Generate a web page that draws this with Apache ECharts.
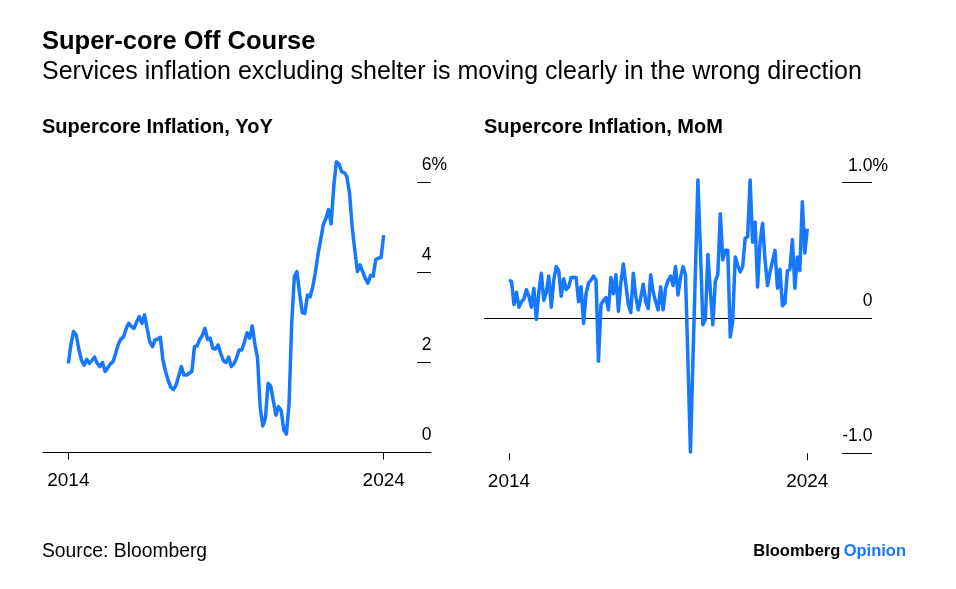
<!DOCTYPE html>
<html><head><meta charset="utf-8">
<script src="https://cdn.jsdelivr.net/npm/echarts@6/dist/echarts.min.js"></script>
<style>html,body{margin:0;padding:0;background:#fff}#c{width:956px;height:589px}</style>
</head><body><div id="c"></div>
<script>
// ---- data (monthly, Jan 2014 .. Jan 2024) ----
const startYear = 2014;
const yoy = [1.98, 2.4, 2.69, 2.61, 2.3, 2.05, 1.94, 2.07, 1.98, 2.05,
  2.12, 1.98, 1.91, 2.0, 1.80, 1.88, 1.97, 2.02, 2.2, 2.4,
  2.52, 2.57, 2.75, 2.87, 2.8, 2.76, 2.9, 3.02, 2.87, 3.06,
  2.75, 2.46, 2.35, 2.5, 2.52, 2.56, 2.06, 1.8, 1.6, 1.45,
  1.40, 1.5, 1.7, 1.91, 1.72, 1.72, 1.76, 1.80, 2.35, 2.37,
  2.51, 2.6, 2.76, 2.51, 2.54, 2.31, 2.3, 2.39, 2.2, 2.04,
  2.0, 2.12, 1.91, 1.97, 2.1, 2.28, 2.28, 2.45, 2.66, 2.54,
  2.81, 2.4, 2.1, 1.0, 0.59, 0.76, 1.54, 1.48, 1.15, 0.83,
  1.02, 0.93, 0.5, 0.41, 1.09, 2.87, 3.91, 4.02, 3.54, 3.11,
  3.09, 3.5, 3.46, 3.68, 4.0, 4.4, 4.72, 5.06, 5.2, 5.4,
  5.08, 5.91, 6.46, 6.41, 6.24, 6.22, 6.13, 5.76, 5.02, 4.5,
  4.02, 4.17, 4.02, 3.87, 3.76, 3.94, 3.92, 4.29, 4.32, 4.33,
  4.83];
const mom = [0.28, 0.27, 0.10, 0.19, 0.08, 0.12, 0.14, 0.21, 0.16, 0.08,
  0.22, -0.01, 0.19, 0.33, 0.13, 0.19, 0.31, 0.08, 0.28, 0.38,
  0.35, 0.16, 0.29, 0.21, 0.23, 0.30, 0.30, 0.30, 0.12, 0.23,
  -0.04, 0.18, 0.26, 0.28, 0.31, 0.28, -0.32, 0.10, 0.13, 0.15,
  0.06, 0.30, 0.18, 0.32, 0.05, 0.26, 0.40, 0.25, 0.10, 0.04,
  0.33, 0.16, 0.06, 0.15, 0.25, 0.12, 0.07, 0.32, 0.19, 0.12,
  0.06, 0.23, 0.06, 0.22, 0.28, 0.31, 0.24, 0.38, 0.17, 0.30,
  0.38, 0.32, -0.33, -0.99, -0.30, 0.35, 1.02, 0.50, -0.05, -0.01,
  0.47, 0.20, -0.05, 0.27, 0.32, 0.77, 0.43, 0.50, 0.50, -0.14,
  -0.02, 0.45, 0.39, 0.34, 0.38, 0.59, 0.60, 1.02, 0.56, 0.71,
  0.23, 0.56, 0.70, 0.43, 0.24, 0.34, 0.42, 0.50, 0.22, 0.36,
  0.09, 0.11, 0.35, 0.36, 0.58, 0.22, 0.45, 0.35, 0.86, 0.48,
  0.66];
const xTickMonths = [0, 120];
const xTickLabels = ['2014', '2024'];
const yoyTicks = [0, 2, 4, 6];
const yoyTickLabels = ['0', '2', '4', '6%'];
const momTicks = [-1, 0, 1];
const momTickLabels = ['-1.0', '0', '1.0%'];

// ---- styling ----
const FONT = '"Liberation Sans", Arial, sans-serif';
const BLUE = '#1677ff';

function yLabelFmt(ticks, labels) {
  return function (v) {
    const i = ticks.findIndex(t => Math.abs(t - v) < 1e-9);
    if (i < 0) return '';
    const t = labels[i];
    return t.endsWith('%') ? '{n|' + t.slice(0, -1) + '}{p|%}' : '{n|' + t + '}{h|%}';
  };
}
function xLabelFmt(v) {
  const i = xTickMonths.indexOf(v);
  return i < 0 ? '' : xTickLabels[i];
}
const richY = {
  n: { fontSize: 17.5, fontFamily: FONT, color: '#000' },
  p: { fontSize: 17.5, fontFamily: FONT, color: '#000' },
  h: { fontSize: 17.5, fontFamily: FONT, color: 'rgba(0,0,0,0)' }
};

const chart = echarts.init(document.getElementById('c'), null, { renderer: 'canvas' });
chart.setOption({
  animation: false,
  backgroundColor: '#fff',
  grid: [
    { left: 43, top: 182.5, width: 388, height: 270 },
    { left: 484, top: 182.7, width: 388, height: 270.6 }
  ],
  xAxis: [
    { type: 'value', gridIndex: 0, min: -9.63, max: 138,
      axisLine: { show: true, onZero: false, lineStyle: { color: '#000', width: 1 } },
      axisTick: { show: true, customValues: xTickMonths, length: 7, lineStyle: { color: '#000', width: 1 } },
      axisLabel: { customValues: xTickMonths, formatter: xLabelFmt, fontSize: 19, fontFamily: FONT, color: '#000', margin: 19 },
      splitLine: { show: false } },
    { type: 'value', gridIndex: 1, min: -10.06, max: 146.03,
      axisLine: { show: false, onZero: false },
      axisTick: { show: true, customValues: xTickMonths, length: 7, lineStyle: { color: '#000', width: 1 } },
      axisLabel: { customValues: xTickMonths, formatter: xLabelFmt, fontSize: 19, fontFamily: FONT, color: '#000', margin: 19 },
      splitLine: { show: false } }
  ],
  yAxis: [
    { type: 'value', gridIndex: 0, position: 'right', min: 0, max: 6, interval: 2,
      axisLine: { show: false, onZero: false },
      axisTick: { show: true, inside: true, length: 14, lineStyle: { color: '#000', width: 1 } },
      axisLabel: { formatter: yLabelFmt(yoyTicks, yoyTickLabels), rich: richY, align: 'right', verticalAlign: 'bottom', margin: 16, padding: [0, 0, 8, 0] },
      splitLine: { show: false } },
    { type: 'value', gridIndex: 1, position: 'right', min: -1, max: 1, interval: 1,
      axisLine: { show: false, onZero: false },
      axisTick: { show: true, inside: true, length: 30, lineStyle: { color: '#000', width: 1 } },
      axisLabel: { formatter: yLabelFmt(momTicks, momTickLabels), rich: richY, align: 'right', verticalAlign: 'bottom', margin: 16, padding: [0, 0, 8, 0] },
      splitLine: { show: false } }
  ],
  series: [
    { type: 'line', xAxisIndex: 0, yAxisIndex: 0, data: yoy.map((v, i) => [i, v]),
      showSymbol: false, clip: false, lineStyle: { color: BLUE, width: 3.5, join: 'round' } },
    { type: 'line', xAxisIndex: 1, yAxisIndex: 1, data: mom.map((v, i) => [i, v]),
      showSymbol: false, clip: false, lineStyle: { color: BLUE, width: 3.5, join: 'round' },
      markLine: { silent: true, symbol: 'none', label: { show: false }, z: 1,
        lineStyle: { color: '#000', width: 1, type: 'solid' }, data: [{ yAxis: 0 }] } }
  ],
  graphic: [
    { type: 'text', left: 42, top: 29, style: { text: 'Super-core Off Course', font: 'bold 25.5px ' + FONT, fill: '#000' } },
    { type: 'text', left: 42, top: 60, style: { text: 'Services inflation excluding shelter is moving clearly in the wrong direction', font: '25px ' + FONT, fill: '#000' } },
    { type: 'text', left: 42, top: 117, style: { text: 'Supercore Inflation, YoY', font: 'bold 20px ' + FONT, fill: '#000' } },
    { type: 'text', left: 484, top: 117, style: { text: 'Supercore Inflation, MoM', font: 'bold 20px ' + FONT, fill: '#000' } },
    { type: 'text', left: 42, top: 542, style: { text: 'Source: Bloomberg', font: '19.3px ' + FONT, fill: '#000' } },
    { type: 'text', right: 50, top: 543, style: {
      text: '{b|Bloomberg} {o|Opinion}',
      rich: { b: { font: 'bold 16.5px ' + FONT, fill: '#000' }, o: { font: 'bold 16.5px ' + FONT, fill: BLUE } } } }
  ]
});
</script></body></html>
